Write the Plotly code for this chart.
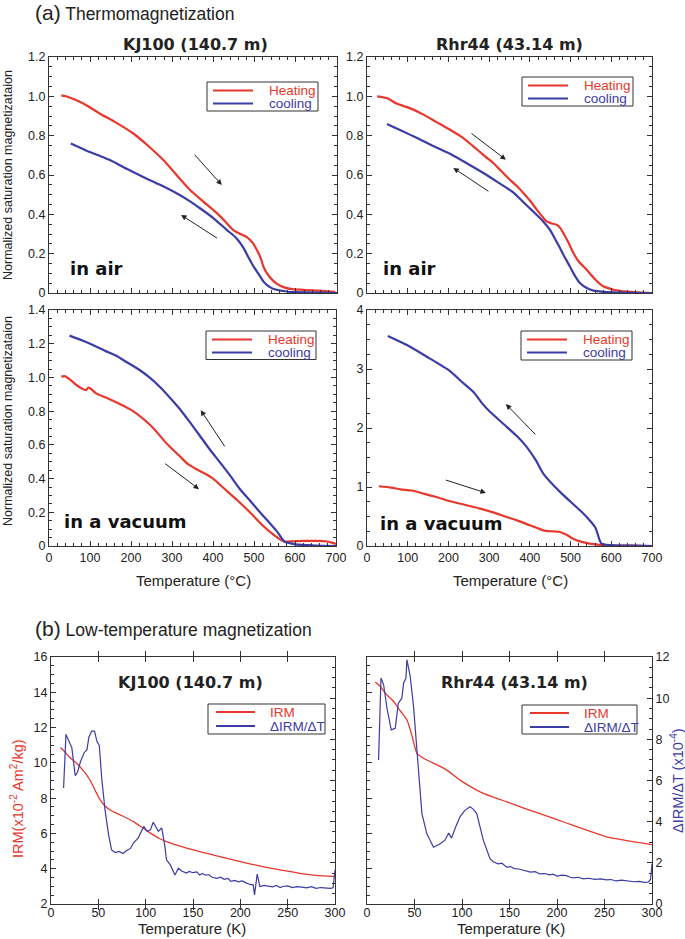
import plotly.graph_objects as go

W, H = 685, 939
RED = "#e8372c"
BLUE = "#3b3ca6"
INK = "#222222"
FONT = "Liberation Sans, Arial, sans-serif"
BOLD = "DejaVu Sans, sans-serif"

# ---------------- (a) Thermomagnetization data ----------------
kj_air_heat_T = [30, 45, 67, 95, 123, 160, 205, 240, 278, 310, 343, 375, 408, 430, 448, 465, 481, 495, 505, 515, 521, 530, 542, 555, 570, 590, 611, 640, 670, 696]
kj_air_heat_M = [1.005, 0.998, 0.98, 0.95, 0.913, 0.87, 0.811, 0.75, 0.676, 0.60, 0.524, 0.465, 0.406, 0.36, 0.32, 0.30, 0.284, 0.255, 0.22, 0.175, 0.135, 0.10, 0.068, 0.045, 0.03, 0.02, 0.017, 0.013, 0.01, 0.005]
kj_air_cool_T = [700, 650, 600, 586, 570, 546, 530, 521, 510, 497, 485, 473, 455, 432, 400, 367, 340, 310, 270, 229, 190, 148, 120, 90, 53]
kj_air_cool_M = [0.0, 0.002, 0.004, 0.005, 0.01, 0.02, 0.04, 0.059, 0.095, 0.135, 0.18, 0.228, 0.28, 0.321, 0.38, 0.431, 0.47, 0.507, 0.55, 0.59, 0.63, 0.676, 0.70, 0.725, 0.76]

rh_air_heat_T = [25, 50, 73, 105, 139, 170, 204, 235, 261, 290, 310, 330, 351, 370, 384, 400, 417, 430, 441, 452, 466, 475, 482, 495, 507, 520, 539, 560, 580, 600, 613, 654, 700]
rh_air_heat_M = [1.0, 0.99, 0.963, 0.94, 0.907, 0.87, 0.83, 0.79, 0.746, 0.695, 0.661, 0.62, 0.576, 0.54, 0.508, 0.47, 0.424, 0.39, 0.364, 0.355, 0.347, 0.33, 0.305, 0.255, 0.203, 0.16, 0.119, 0.07, 0.034, 0.02, 0.014, 0.005, 0.0]
rh_air_cool_T = [700, 650, 605, 580, 556, 540, 523, 510, 498, 486, 474, 462, 449, 430, 408, 385, 359, 320, 286, 245, 204, 160, 123, 85, 49]
rh_air_cool_M = [0.0, 0.001, 0.003, 0.006, 0.012, 0.025, 0.051, 0.09, 0.136, 0.18, 0.229, 0.275, 0.322, 0.37, 0.415, 0.46, 0.512, 0.565, 0.61, 0.66, 0.708, 0.75, 0.788, 0.825, 0.859]

kj_vac_heat_T = [30, 38, 50, 67, 80, 91, 96, 102, 115, 140, 170, 205, 250, 290, 320, 339, 360, 380, 400, 430, 460, 490, 520, 546, 560, 572, 590, 620, 650, 675, 690, 700]
kj_vac_heat_M = [1.005, 1.008, 0.99, 0.955, 0.935, 0.925, 0.94, 0.933, 0.905, 0.879, 0.845, 0.80, 0.71, 0.60, 0.53, 0.485, 0.455, 0.43, 0.40, 0.335, 0.27, 0.20, 0.125, 0.07, 0.045, 0.028, 0.027, 0.03, 0.03, 0.028, 0.02, 0.012]
kj_vac_cool_T = [700, 650, 600, 585, 575, 554, 535, 514, 490, 465, 441, 416, 390, 367, 345, 318, 295, 270, 245, 221, 190, 164, 135, 107, 80, 50]
kj_vac_cool_M = [0.0, 0.003, 0.01, 0.018, 0.024, 0.093, 0.145, 0.202, 0.27, 0.34, 0.42, 0.499, 0.58, 0.657, 0.73, 0.816, 0.88, 0.945, 1.0, 1.044, 1.09, 1.129, 1.16, 1.192, 1.22, 1.248]

rh_vac_heat_T = [29, 60, 82, 110, 139, 170, 204, 240, 278, 310, 343, 370, 400, 420, 433, 450, 474, 490, 506, 525, 547, 570, 588, 650, 700]
rh_vac_heat_M = [1.013, 0.99, 0.96, 0.94, 0.888, 0.83, 0.758, 0.70, 0.634, 0.57, 0.492, 0.43, 0.351, 0.30, 0.266, 0.25, 0.238, 0.19, 0.124, 0.075, 0.04, 0.02, 0.011, 0.005, 0.0]
rh_vac_cool_T = [700, 650, 605, 590, 576, 570, 566, 560, 545, 523, 474, 433, 415, 392, 370, 343, 302, 285, 261, 230, 204, 147, 98, 51]
rh_vac_cool_M = [0.0, 0.005, 0.011, 0.02, 0.04, 0.124, 0.22, 0.322, 0.45, 0.605, 0.917, 1.228, 1.45, 1.68, 1.85, 2.02, 2.274, 2.4, 2.614, 2.8, 2.965, 3.208, 3.406, 3.559]

# ---------------- (b) Low-temperature data ----------------
kj_irm_K = [10, 15, 20, 27, 35, 41, 47, 52, 57, 62.5, 75, 87, 100, 108, 115, 122, 140, 157, 175, 192.5, 210, 227.6, 245, 263, 280, 300]
kj_irm_V = [10.87, 10.6, 10.3, 9.98, 9.5, 9.04, 8.4, 7.9, 7.55, 7.33, 7.0, 6.67, 6.2, 5.92, 5.7, 5.54, 5.22, 4.97, 4.73, 4.5, 4.28, 4.08, 3.9, 3.74, 3.62, 3.55]
kj_d_K = [13.3, 15.8, 18, 22, 25.6, 28, 31, 35, 38, 40, 43, 46, 48.5, 51, 53.7, 57, 60.8, 64, 68, 72, 76, 80, 84, 87, 92, 98, 101.5, 105, 108, 111, 113.4, 117, 120, 122, 126, 131, 134.5, 138, 143, 146, 150, 154, 157, 160, 163, 167, 170, 175, 179, 183, 187, 190, 194, 198, 202, 205, 210, 213.6, 215, 217.8, 220.6, 225, 230, 234, 238, 242, 245, 250, 255, 260, 265, 270, 275, 280, 285, 290, 295, 298, 300]
kj_d_V = [5.64, 8.24, 8.0, 7.6, 6.24, 6.4, 6.9, 7.35, 7.5, 8.1, 8.4, 8.4, 7.9, 7.7, 6.05, 4.6, 3.37, 2.63, 2.5, 2.55, 2.45, 2.6, 2.7, 2.96, 3.2, 3.77, 3.53, 3.6, 3.97, 3.7, 3.53, 3.69, 2.9, 2.15, 1.9, 1.41, 1.74, 1.6, 1.5, 1.58, 1.52, 1.56, 1.41, 1.48, 1.4, 1.42, 1.3, 1.25, 1.3, 1.2, 1.24, 1.1, 1.15, 1.08, 1.12, 1.05, 0.95, 0.93, 0.44, 1.45, 0.85, 0.9, 0.88, 0.83, 0.9, 0.8, 0.85, 0.88, 0.8, 0.84, 0.82, 0.78, 0.84, 0.76, 0.8, 0.78, 0.76, 0.79, 1.66]

rh_irm_K = [8.75, 14, 20, 28, 35, 42, 47, 52.5, 57, 63, 75, 84, 98, 108, 119, 130, 147, 165, 182, 200, 217, 235, 252, 275, 300]
rh_irm_V = [14.58, 14.33, 13.9, 13.48, 12.95, 12.44, 11.6, 10.54, 10.35, 10.16, 9.85, 9.59, 9.02, 8.68, 8.36, 8.12, 7.79, 7.44, 7.12, 6.78, 6.46, 6.12, 5.8, 5.58, 5.36]
rh_d_K = [12.2, 14.7, 17.5, 21, 25.5, 29.7, 33, 36.7, 38.5, 41, 42, 45.5, 49, 52.5, 55, 57.8, 63, 70, 77, 82, 86, 89, 93, 98, 103, 108.5, 112, 115.5, 122.5, 129.5, 133, 138, 142, 147, 151, 155, 160, 164.5, 168, 172, 177, 182, 187, 192, 196, 200, 205, 210, 214, 217, 222, 228, 233, 240, 246, 252, 257, 262, 268, 275, 281, 287, 292, 296, 298.5, 300]
rh_d_V = [6.99, 10.98, 10.65, 9.51, 8.46, 8.54, 9.76, 10.0, 10.73, 10.98, 11.87, 11.06, 9.59, 7.48, 5.8, 4.39, 3.41, 2.76, 2.93, 3.1, 3.45, 3.2, 3.7, 4.25, 4.55, 4.72, 4.6, 4.39, 3.09, 2.2, 2.05, 1.95, 1.98, 1.79, 1.82, 1.72, 1.7, 1.63, 1.6, 1.55, 1.57, 1.46, 1.48, 1.42, 1.45, 1.36, 1.4, 1.38, 1.3, 1.27, 1.3, 1.22, 1.25, 1.2, 1.22, 1.17, 1.19, 1.12, 1.16, 1.13, 1.08, 1.1, 1.05, 1.06, 1.2, 1.95]

# ---------------- tick labels / legend names ----------------
ticks_12 = [0, 0.2, 0.4, 0.6, 0.8, 1.0, 1.2]
ticks_12_txt = ["0", "0.2", "0.4", "0.6", "0.8", "1.0", "1.2"]
ticks_14 = [0, 0.2, 0.4, 0.6, 0.8, 1.0, 1.2, 1.4]
ticks_14_txt = ["0", "0.2", "0.4", "0.6", "0.8", "1.0", "1.2", "1.4"]
names_a = ["Heating", "cooling"]
names_b = ["IRM", "ΔIRM/ΔT"]


def px_x(p):
    return p / W


def px_y(p):
    return 1 - p / H


fig = go.Figure()


def add_line(xa, ya, xs, ys, color, width, name, smooth=True):
    line = dict(color=color, width=width)
    if smooth:
        line.update(shape="spline", smoothing=0.6)
    fig.add_trace(go.Scatter(x=xs, y=ys, xaxis=xa, yaxis=ya, mode="lines", line=line,
                             name=name, showlegend=False, hoverinfo="x+y"))


add_line("x", "y", kj_air_heat_T, kj_air_heat_M, RED, 2.2, names_a[0])
add_line("x", "y", kj_air_cool_T, kj_air_cool_M, BLUE, 2.2, names_a[1])
add_line("x2", "y2", rh_air_heat_T, rh_air_heat_M, RED, 2.2, names_a[0])
add_line("x2", "y2", rh_air_cool_T, rh_air_cool_M, BLUE, 2.2, names_a[1])
add_line("x3", "y3", kj_vac_heat_T, kj_vac_heat_M, RED, 2.2, names_a[0])
add_line("x3", "y3", kj_vac_cool_T, kj_vac_cool_M, BLUE, 2.2, names_a[1])
add_line("x4", "y4", rh_vac_heat_T, rh_vac_heat_M, RED, 2.2, names_a[0])
add_line("x4", "y4", rh_vac_cool_T, rh_vac_cool_M, BLUE, 2.2, names_a[1])
add_line("x5", "y5", kj_irm_K, kj_irm_V, RED, 1.3, names_b[0])
add_line("x5", "y6", kj_d_K, kj_d_V, BLUE, 1.2, names_b[1], smooth=False)
add_line("x6", "y7", rh_irm_K, rh_irm_V, RED, 1.3, names_b[0])
add_line("x6", "y8", rh_d_K, rh_d_V, BLUE, 1.2, names_b[1], smooth=False)

tickfont = dict(family=FONT, size=12.5, color=INK)


def minor(dt):
    return dict(ticks="inside", ticklen=3, dtick=dt, tickcolor="#333", showgrid=False)


def axis(domain, rng, anchor, **kw):
    d = dict(domain=domain, range=rng, anchor=anchor, showline=True, linecolor="#333", linewidth=1,
             mirror="allticks", ticks="inside", ticklen=5, tickcolor="#333", showgrid=False,
             zeroline=False, tickfont=tickfont, fixedrange=True, automargin=False)
    d.update(kw)
    return d


xd = lambda a, b: [px_x(a), px_x(b)]
TOPY = [px_y(293), px_y(57)]
BOTY = [px_y(546), px_y(310)]
BY = [px_y(904), px_y(657)]

fig.update_layout(
    xaxis=axis(xd(49, 337), [0, 700], "y", dtick=100, showticklabels=False, minor=minor(20)),
    yaxis=axis(TOPY, [0, 1.2], "x", tickvals=ticks_12, ticktext=ticks_12_txt, minor=minor(0.05)),
    xaxis2=axis(xd(367, 652), [0, 700], "y2", dtick=100, showticklabels=False, minor=minor(20)),
    yaxis2=axis(TOPY, [0, 1.2], "x2", tickvals=ticks_12, ticktext=ticks_12_txt, minor=minor(0.05)),
    xaxis3=axis(xd(49, 336), [0, 700], "y3", dtick=100, minor=minor(20)),
    yaxis3=axis(BOTY, [0, 1.4], "x3", tickvals=ticks_14, ticktext=ticks_14_txt, minor=minor(0.05)),
    xaxis4=axis(xd(367, 652), [0, 700], "y4", dtick=100, minor=minor(20)),
    yaxis4=axis(BOTY, [0, 4], "x4", dtick=1, minor=minor(0.25)),
    xaxis5=axis(xd(51, 335), [0, 300], "y5", dtick=50, ticklabelstandoff=-3),
    yaxis5=axis(BY, [2, 16], "x5", dtick=2, mirror=False, minor=minor(0.5)),
    yaxis6=axis(BY, [0, 12], "x5", dtick=2, mirror=False, overlaying="y5", side="right",
                showticklabels=False, minor=minor(0.5)),
    xaxis6=axis(xd(367, 652), [0, 300], "y7", dtick=50, ticklabelstandoff=-3),
    yaxis7=axis(BY, [2, 16], "x6", dtick=2, mirror=False, showticklabels=False, minor=minor(0.5)),
    yaxis8=axis(BY, [0, 12], "x6", dtick=2, mirror=False, overlaying="y7", side="right", minor=minor(0.5)),
)

ann = []
shapes = []


def text(x, y, s, size, color=INK, family=FONT, angle=0, xanchor="center"):
    ann.append(dict(x=px_x(x), y=px_y(y), xref="paper", yref="paper", text=s, showarrow=False,
                    font=dict(family=family, size=size, color=color), textangle=angle,
                    xanchor=xanchor, yanchor="middle"))


def legend_box(x0, y0, w, h, names, r1, r2, lx0, lx1):
    shapes.append(dict(type="rect", xref="paper", yref="paper", x0=px_x(x0), x1=px_x(x0 + w),
                       y0=px_y(y0), y1=px_y(y0 + h), line=dict(color="#333", width=1), fillcolor="white"))
    for name, col, r in ((names[0], RED, r1), (names[1], BLUE, r2)):
        shapes.append(dict(type="line", xref="paper", yref="paper", x0=px_x(x0 + lx0), x1=px_x(x0 + lx1),
                           y0=px_y(y0 + r), y1=px_y(y0 + r), line=dict(color=col, width=2)))
        text(x0 + 60, y0 + r, name, 13.5, color=col, xanchor="left")


legend_box(207, 82, 111, 29, names_a, 8.5, 21.5, 6, 46)
legend_box(522, 77, 111, 29, names_a, 8.5, 21.5, 6, 46)
legend_box(206, 331, 110, 28.5, names_a, 8.5, 21.5, 6, 46)
legend_box(521, 331, 111, 29, names_a, 8.5, 21.5, 6, 46)
legend_box(208, 704, 117, 30, names_b, 8, 22, 8, 47)
legend_box(522, 705, 115, 29, names_b, 8, 22, 8, 47)

text(33, 13, "<span style='font-size:21px'>(a)</span> Thermomagnetization", 17.5, xanchor="left")
text(33, 628, "<span style='font-size:21px'>(b)</span> Low-temperature magnetization", 17.5, xanchor="left")
text(195, 45, "<b>KJ100 (140.7 m)</b>", 16, family=BOLD)
text(509, 45, "<b>Rhr44 (43.14 m)</b>", 16, family=BOLD)
text(190, 682, "<b>KJ100 (140.7 m)</b>", 16, family=BOLD)
text(514, 682, "<b>Rhr44 (43.14 m)</b>", 16, family=BOLD)
text(68, 268, "<b>in air</b>", 18, color="#111", family=BOLD, xanchor="left")
text(381, 268, "<b>in air</b>", 18, color="#111", family=BOLD, xanchor="left")
text(62, 521, "<b>in a vacuum</b>", 18, color="#111", family=BOLD, xanchor="left")
text(378, 523, "<b>in a vacuum</b>", 18, color="#111", family=BOLD, xanchor="left")
text(8, 175, "Normalized saturation magnetizataion", 12.5, angle=-90)
text(8, 421, "Normalized saturation magnetizataion", 12.5, angle=-90)
text(193, 580, "Temperature (°C)", 15)
text(510, 580, "Temperature (°C)", 15)
text(192, 928, "Temperature (K)", 15)
text(511, 928, "Temperature (K)", 15)
text(17, 799, "IRM(x10<sup>-2</sup> Am<sup>2</sup>/kg)", 14.5, color=RED, angle=-90)
text(677, 781, "ΔIRM/ΔT (x10<sup>-4</sup>)", 14.5, color=BLUE, angle=-90)

# arrows (head, tail) in data units
arrows = [
    ("x", "y", 420, 0.549, 351, 0.71),
    ("x", "y", 321, 0.397, 412, 0.274),
    ("x2", "y2", 341, 0.678, 253, 0.817),
    ("x2", "y2", 212, 0.636, 302, 0.512),
    ("x3", "y3", 370, 0.806, 431, 0.582),
    ("x3", "y3", 366, 0.337, 280, 0.495),
    ("x4", "y4", 341, 2.405, 417, 1.867),
    ("x4", "y4", 292, 0.9, 190, 1.126),
]
for xr, yr, hx, hy, tx, ty in arrows:
    ann.append(dict(x=hx, y=hy, ax=tx, ay=ty, xref=xr, yref=yr, axref=xr, ayref=yr, text="",
                    showarrow=True, arrowhead=2, arrowsize=1.1, arrowwidth=1, arrowcolor="#222"))

fig.update_layout(annotations=ann, shapes=shapes, width=W, height=H,
                  margin=dict(l=0, r=0, t=0, b=0, autoexpand=False),
                  paper_bgcolor="white", plot_bgcolor="white", showlegend=False)

fig.write_html("out.html", config={"displayModeBar": False},
               post_script="document.body.style.margin='0px';document.body.style.overflow='hidden';")
